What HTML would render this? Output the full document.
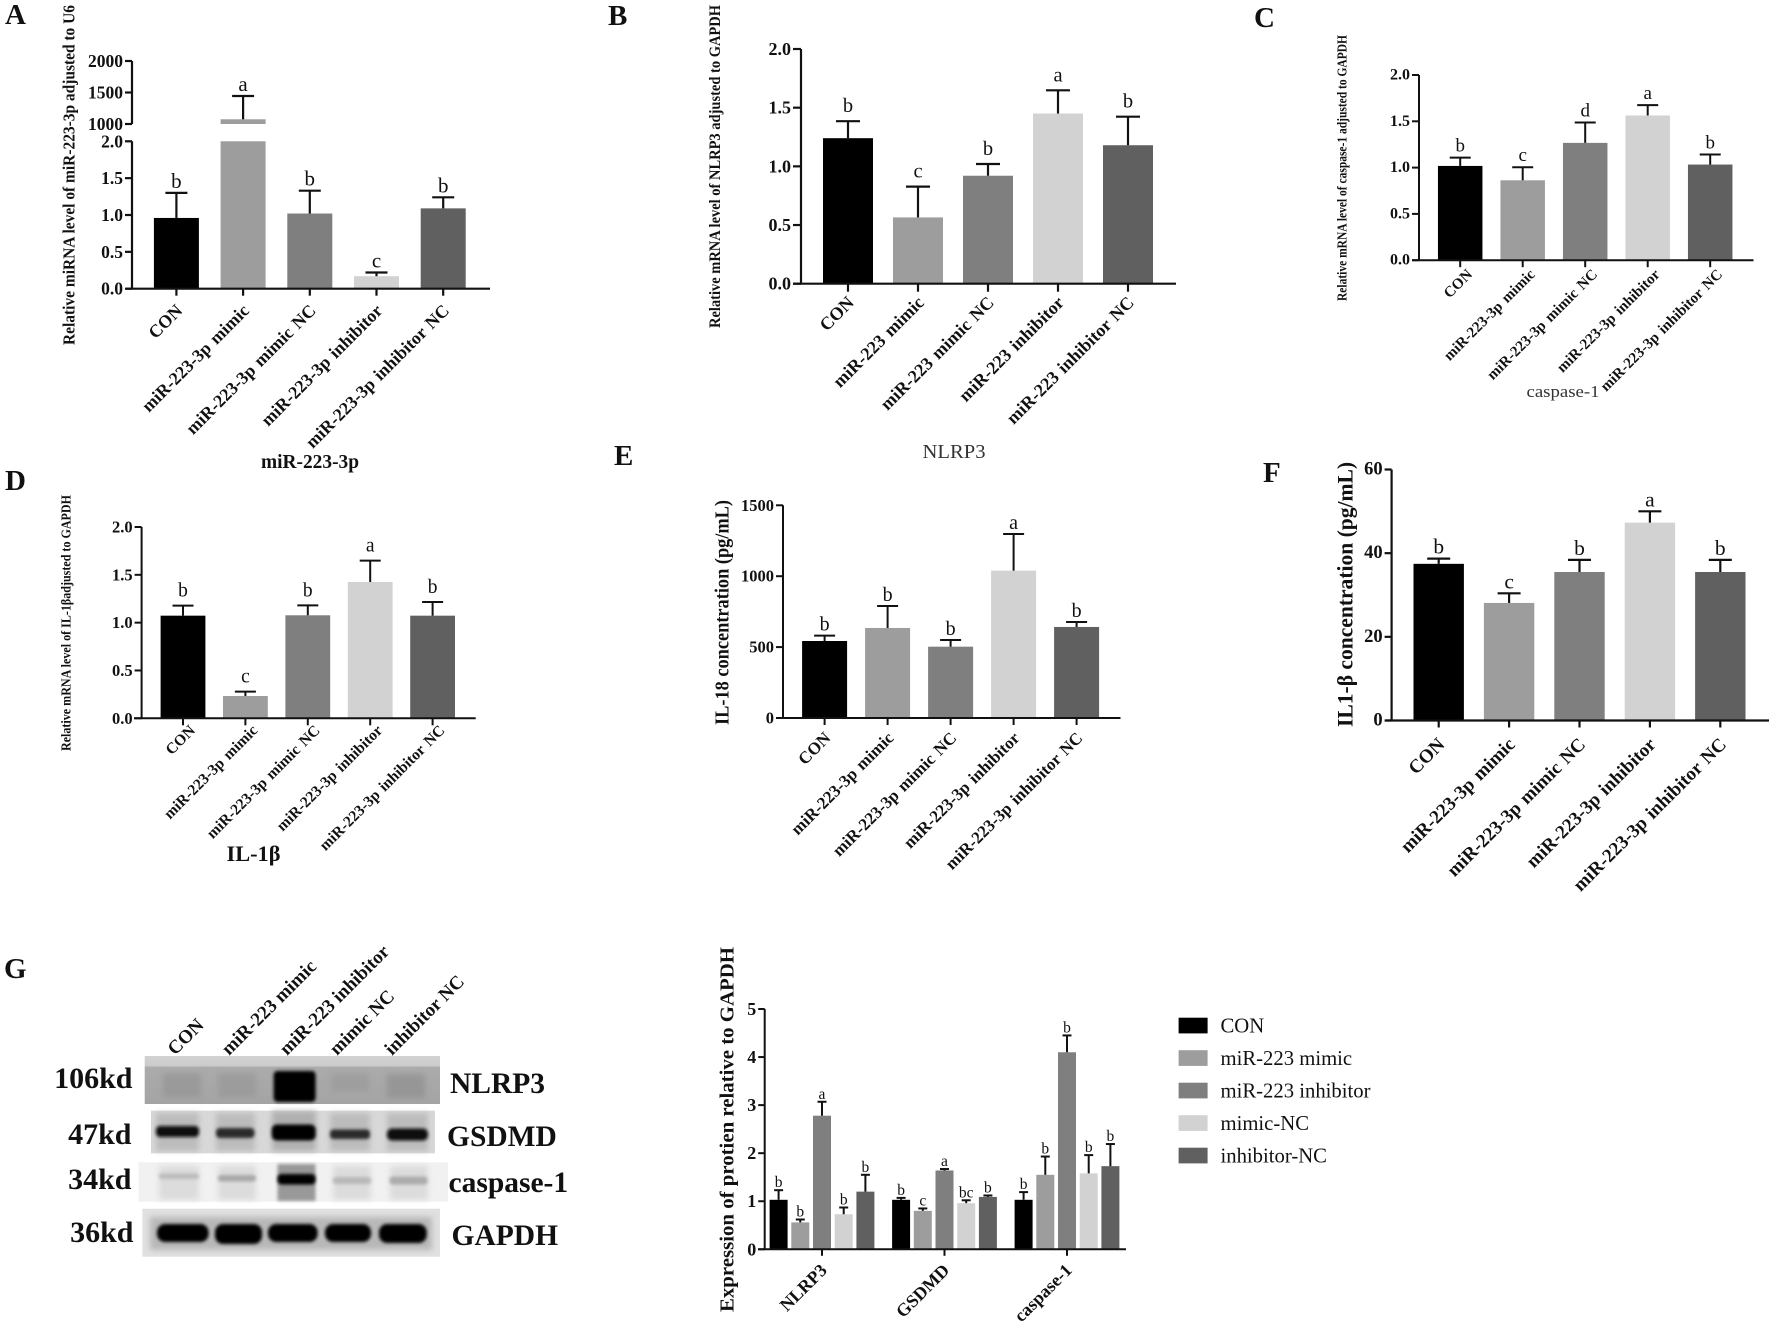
<!DOCTYPE html>
<html lang="en">
<head>
<meta charset="utf-8">
<title>miR-223-3p figure</title>
<style>
html,body{margin:0;padding:0;background:#fff;width:1772px;height:1326px;overflow:hidden}
svg{display:block;font-family:"Liberation Serif","Noto Serif CJK SC",serif}
text{fill:#111}
</style>
</head>
<body>
<svg id="fig" xmlns="http://www.w3.org/2000/svg" width="1772" height="1326" viewBox="0 0 1772 1326">
<defs>
<filter id="b1" x="-20%" y="-60%" width="140%" height="220%"><feGaussianBlur stdDeviation="1.6"/></filter>
<filter id="b3" x="-30%" y="-30%" width="160%" height="160%"><feGaussianBlur stdDeviation="3"/></filter>
<linearGradient id="nlrpBg" x1="0" y1="0" x2="0" y2="1"><stop offset="0" stop-color="#d2d2d2"/><stop offset=".2" stop-color="#cccccc"/><stop offset=".24" stop-color="#ababab"/><stop offset="1" stop-color="#a4a4a4"/></linearGradient>
</defs>
<rect width="1772" height="1326" fill="#fff"/>

<g font-weight="bold" font-size="29">
<text x="5" y="24">A</text>
<text x="608" y="25">B</text>
<text x="1254" y="27">C</text>
<text x="5" y="490">D</text>
<text x="614" y="465">E</text>
<text x="1263" y="482">F</text>
<text x="4" y="978">G</text>
</g>

<g text-anchor="middle">
<text x="310" y="468" font-size="19.5" font-weight="bold" textLength="98" lengthAdjust="spacingAndGlyphs">miR-223-3p</text>
<text x="954" y="458" font-size="20" style="fill:#333" textLength="63" lengthAdjust="spacingAndGlyphs">NLRP3</text>
<text x="1563" y="397" font-size="17" style="fill:#333" textLength="73" lengthAdjust="spacingAndGlyphs">caspase-1</text>
<text x="253.5" y="861" font-size="22" font-weight="bold" textLength="54" lengthAdjust="spacingAndGlyphs">IL-1β</text>
</g>

<g>
<g font-size="19" font-weight="bold">
<text transform="translate(175 1056) rotate(-45)">CON</text>
<text transform="translate(229 1056) rotate(-45)">miR-223 mimic</text>
<text transform="translate(287 1056) rotate(-45)">miR-223 inhibitor</text>
<text transform="translate(337 1056) rotate(-45)">mimic NC</text>
<text transform="translate(392 1056) rotate(-45)">inhibitor NC</text>
</g>
<g>
<rect x="144.7" y="1056" width="295.3" height="48" fill="url(#nlrpBg)"/>
<g filter="url(#b3)" fill="#8e8e8e">
<rect x="163" y="1073" width="38" height="24" opacity=".55"/><rect x="218" y="1073" width="38" height="24" opacity=".45"/><rect x="331" y="1073" width="38" height="18" opacity=".4"/><rect x="387" y="1074" width="38" height="24" opacity=".7"/>
</g>
<rect x="273.6" y="1071" width="42" height="31" rx="4" fill="#000" filter="url(#b1)"/>
</g>
<g>
<rect x="151" y="1110.7" width="284" height="42.6" fill="#d8d8d8"/>
<g filter="url(#b3)" fill="#b0b0b0"><rect x="156" y="1113" width="43" height="38" opacity=".7"/><rect x="216" y="1113" width="39" height="38" opacity=".7"/><rect x="272" y="1111" width="44" height="40"/><rect x="330" y="1113" width="40" height="38" opacity=".7"/><rect x="387" y="1113" width="41" height="38" opacity=".7"/></g>
<g filter="url(#b1)"><rect x="156" y="1126" width="43" height="11" rx="4" fill="#111"/><rect x="216" y="1128" width="38.5" height="10" rx="4" fill="#2a2a2a"/><rect x="271.7" y="1124.5" width="44" height="16" rx="5" fill="#000"/><rect x="330" y="1129.5" width="40" height="9.5" rx="3.5" fill="#2a2a2a"/><rect x="387" y="1128.5" width="41" height="12" rx="5" fill="#111"/></g>
</g>
<g>
<rect x="138.5" y="1162.3" width="309.5" height="39.4" fill="#f1f1f1"/>
<g filter="url(#b3)" fill="#dcdcdc"><rect x="159" y="1166" width="40" height="34"/><rect x="218" y="1166" width="38" height="34"/><rect x="333" y="1166" width="38" height="34"/><rect x="390" y="1166" width="38" height="34"/></g>
<rect x="277.5" y="1164" width="38" height="37" fill="#8a8a8a" filter="url(#b1)" opacity=".85"/>
<g filter="url(#b1)"><rect x="159" y="1173.5" width="40" height="5.5" rx="2.5" fill="#bcbcbc"/><rect x="218" y="1175" width="38" height="6.5" rx="3" fill="#a8a8a8"/><rect x="277.5" y="1174" width="38" height="10.5" rx="4" fill="#000"/><rect x="333" y="1177" width="38" height="7" rx="3" fill="#b8b8b8"/><rect x="389.6" y="1176.5" width="38" height="8" rx="3" fill="#acacac"/></g>
</g>
<g>
<rect x="142.4" y="1208.7" width="297.6" height="48" fill="#e0e0e0"/>
<rect x="150" y="1217" width="282" height="33" fill="#b8b8b8" filter="url(#b3)"/>
<g filter="url(#b1)" fill="#000"><rect x="157" y="1224" width="51.6" height="18" rx="8"/><rect x="215" y="1224" width="47" height="20" rx="8"/><rect x="268" y="1224" width="49.6" height="18" rx="8"/><rect x="325" y="1224" width="46" height="18" rx="8"/><rect x="379" y="1224" width="47.7" height="19" rx="8"/></g>
</g>
<g font-size="30" font-weight="bold" text-anchor="end">
<text x="132.5" y="1088">106kd</text>
<text x="131.5" y="1144">47kd</text>
<text x="131.5" y="1189">34kd</text>
<text x="133.5" y="1242">36kd</text>
</g>
<g font-size="29.5" font-weight="bold">
<text x="450" y="1093">NLRP3</text>
<text x="447" y="1146">GSDMD</text>
<text x="448.5" y="1192">caspase-1</text>
<text x="451.5" y="1245">GAPDH</text>
</g>
</g>

<g id="charts"></g>
</svg>

<script>
// ---- Chart data ----
const colors3pCategories = ["CON", "miR-223-3p mimic", "miR-223-3p mimic NC", "miR-223-3p inhibitor", "miR-223-3p inhibitor NC"];
const mir223Categories = ["CON", "miR-223 mimic", "miR-223 mimic NC", "miR-223 inhibitor", "miR-223 inhibitor NC"];

const panelAValues = [0.96, 1075, 1.02, 0.17, 1.09];
const panelAErrors = [0.34, 370, 0.31, 0.05, 0.15];
const panelALetters = ["b", "a", "b", "c", "b"];
const panelATicksLow = [0, 0.5, 1, 1.5, 2];
const panelATickLabelsLow = ["0.0", "0.5", "1.0", "1.5", "2.0"];
const panelATicksHigh = [1000, 1500, 2000];
const panelATickLabelsHigh = ["1000", "1500", "2000"];

const panelBValues = [1.24, 0.565, 0.92, 1.45, 1.18];
const panelBErrors = [0.145, 0.262, 0.10, 0.198, 0.243];
const panelBLetters = ["b", "c", "b", "a", "b"];

const panelCValues = [1.018, 0.863, 1.267, 1.563, 1.033];
const panelCErrors = [0.09, 0.141, 0.22, 0.112, 0.108];
const panelCLetters = ["b", "c", "d", "a", "b"];

const panelDValues = [1.073, 0.233, 1.077, 1.425, 1.073];
const panelDErrors = [0.105, 0.046, 0.104, 0.223, 0.143];
const panelDLetters = ["b", "c", "b", "a", "b"];

const panelEValues = [543, 635, 503, 1039, 642];
const panelEErrors = [38, 155, 47, 259, 35];
const panelELetters = ["b", "b", "b", "a", "b"];
const panelETicks = [0, 500, 1000, 1500];
const panelETickLabels = ["0", "500", "1000", "1500"];

const panelFValues = [37.45, 28.1, 35.5, 47.3, 35.5];
const panelFErrors = [1.25, 2.3, 2.9, 2.7, 2.9];
const panelFLetters = ["b", "c", "b", "a", "b"];
const panelFTicks = [0, 20, 40, 60];
const panelFTickLabels = ["0", "20", "40", "60"];

const unitTicks = [0, 0.5, 1, 1.5, 2];
const unitTickLabels = ["0.0", "0.5", "1.0", "1.5", "2.0"];

const proteinCategories = ["NLRP3", "GSDMD", "caspase-1"];
const proteinSeriesNames = ["CON", "miR-223 mimic", "miR-223 inhibitor", "mimic-NC", "inhibitor-NC"];
const proteinConValues = [1.03, 1.03, 1.03];
const proteinConErrors = [0.20, 0.04, 0.16];
const proteinConLetters = ["b", "b", "b"];
const proteinMimicValues = [0.56, 0.80, 1.55];
const proteinMimicErrors = [0.06, 0.05, 0.38];
const proteinMimicLetters = ["b", "c", "b"];
const proteinInhibitorValues = [2.78, 1.64, 4.10];
const proteinInhibitorErrors = [0.29, 0.03, 0.35];
const proteinInhibitorLetters = ["a", "a", "b"];
const proteinMimicNcValues = [0.73, 0.96, 1.58];
const proteinMimicNcErrors = [0.14, 0.06, 0.38];
const proteinMimicNcLetters = ["b", "bc", "b"];
const proteinInhibitorNcValues = [1.20, 1.09, 1.73];
const proteinInhibitorNcErrors = [0.35, 0.03, 0.46];
const proteinInhibitorNcLetters = ["b", "b", "b"];
const proteinTicks = [0, 1, 2, 3, 4, 5];
const proteinTickLabels = ["0", "1", "2", "3", "4", "5"];

// ---- Drawing ----
const shades = ["#000000", "#9d9d9e", "#7f7f7f", "#d2d2d2", "#606060"];
const NS = "http://www.w3.org/2000/svg";
const root = document.getElementById("charts");

function make(tag, attrs, parent, text) {
  const el = document.createElementNS(NS, tag);
  for (const k in attrs) el.setAttribute(k, attrs[k]);
  if (text !== undefined) el.textContent = text;
  parent.appendChild(el);
  return el;
}
function line(parent, x1, y1, x2, y2, w) {
  return make("line", {x1: x1, y1: y1, x2: x2, y2: y2, stroke: "#111", "stroke-width": w}, parent);
}
function axisScale(segments) {
  return function (v) {
    for (const s of segments) {
      if (v <= s.d1) return s.p0 + (Math.max(v, s.d0) - s.d0) / (s.d1 - s.d0) * (s.p1 - s.p0);
    }
    const l = segments[segments.length - 1];
    return l.p0 + (v - l.d0) / (l.d1 - l.d0) * (l.p1 - l.p0);
  };
}
function drawYTitle(parent, p) {
  const cy = (p.titleTop + p.titleBottom) / 2;
  const t = make("text", {
    transform: "translate(" + p.titleX + " " + cy + ") rotate(-90)",
    "text-anchor": "middle", "dominant-baseline": "central", "font-weight": "bold",
    "font-size": p.titleSize, textLength: p.titleBottom - p.titleTop, lengthAdjust: "spacingAndGlyphs"
  }, parent, p.title);
  
  
}
function drawYTicks(parent, p, y, ticks, labels) {
  ticks.forEach(function (v, i) {
    const tk = line(parent, p.axisX - p.tickLen, y(v), p.axisX, y(v), p.axisW);
    
    
    const lb = make("text", {
      x: p.axisX - p.tickLen - 2, y: y(v), "text-anchor": "end", "dominant-baseline": "central",
      "font-weight": "bold", "font-size": p.tickSize
    }, parent, labels[i]);
    
    
  });
}
function drawBar(parent, p, y, cx, val, err, letter, fill, w, capW, segments) {
  segments.forEach(function (s) {
    if (val <= s.d0) return;
    const top = y(Math.min(val, s.d1));
    const bottom = y(s.d0);
    const r = make("rect", {x: cx - w / 2, y: top, width: w, height: bottom - top, fill: fill}, parent);
    
    
  });
  const capY = y(val + err);
  const stem = line(parent, cx, y(val), cx, capY, p.errW);
  
  
  const cap = line(parent, cx - capW / 2, capY, cx + capW / 2, capY, p.errW);
  
  
  const t = make("text", {
    x: cx + (p.letterDx || 0), y: capY - p.letterGap, "text-anchor": "middle", "font-size": p.letterSize
  }, parent, letter);
  
  
}
function drawXLabel(parent, p, cx, label) {
  const t = make("text", {
    transform: "translate(" + (cx + p.labelDx) + " " + (p.segments[0].p0 + p.labelDy) + ") rotate(" + (p.labelRot || -45) + ")",
    "text-anchor": "end", "font-weight": "bold", "font-size": p.labelSize, "word-spacing": "1.5"
  }, parent, label);
  
  
}
function drawPanel(p) {
  const g = make("g", {}, root);
  
  
  const y = axisScale(p.segments);
  drawYTitle(g, p);
  p.segments.forEach(function (s) {
    const a = line(g, p.axisX, s.p0, p.axisX, s.p1, p.axisW);
    
    
  });
  p.tickSets.forEach(function (ts) { drawYTicks(g, p, y, ts[0], ts[1]); });
  p.values.forEach(function (v, i) {
    const cx = p.x0 + p.step * i;
    drawBar(g, p, y, cx, v, p.errors[i], p.letters[i], shades[i], p.barW, p.capW, p.segments);
    const tk = line(g, cx, p.segments[0].p0, cx, p.segments[0].p0 + p.tickLen, p.axisW);
    
    
    drawXLabel(g, p, cx, p.categories[i]);
  });
  const base = line(g, p.xStart, p.segments[0].p0, p.xEnd, p.segments[0].p0, p.axisW);
  
  
}

drawPanel({
  name: "panel-a-mirna-chart", categories: colors3pCategories, values: panelAValues, errors: panelAErrors, letters: panelALetters,
  tickSets: [[panelATicksLow, panelATickLabelsLow], [panelATicksHigh, panelATickLabelsHigh]],
  segments: [{d0: 0, d1: 2, p0: 288.7, p1: 141.3}, {d0: 1000, d1: 2000, p0: 124, p1: 61}],
  axisX: 132, xStart: 126, xEnd: 490, x0: 176.4, step: 66.7, barW: 45, capW: 22,
  axisW: 2.2, errW: 2.2, tickLen: 7, tickSize: 17.5, letterSize: 21, letterGap: 5, labelSize: 17.8, labelDx: 7, labelDy: 23,
  title: "Relative miRNA level of miR-223-3p adjusted to U6", titleX: 69, titleTop: 5, titleBottom: 345, titleSize: 16.5
});
drawPanel({
  name: "panel-b-nlrp3-chart", categories: mir223Categories, values: panelBValues, errors: panelBErrors, letters: panelBLetters,
  tickSets: [[unitTicks, unitTickLabels]],
  segments: [{d0: 0, d1: 2, p0: 283.7, p1: 49}],
  axisX: 801, xStart: 793, xEnd: 1176, x0: 848, step: 70, barW: 50, capW: 24,
  axisW: 2.2, errW: 2.2, tickLen: 8, tickSize: 18, letterSize: 20.5, letterGap: 9, labelSize: 18, labelDx: 7, labelDy: 20,
  title: "Relative mRNA level of NLRP3 adjusted to GAPDH", titleX: 715.6, titleTop: 5, titleBottom: 328, titleSize: 15.5
});
drawPanel({
  name: "panel-c-caspase-1-chart", categories: colors3pCategories, values: panelCValues, errors: panelCErrors, letters: panelCLetters,
  tickSets: [[unitTicks, unitTickLabels]],
  segments: [{d0: 0, d1: 2, p0: 260.2, p1: 75}],
  axisX: 1419, xStart: 1412, xEnd: 1753.5, x0: 1460.2, step: 62.5, barW: 44.5, capW: 21,
  axisW: 2, errW: 2, tickLen: 7, tickSize: 16, letterSize: 19, letterGap: 6, labelSize: 15.1, labelDx: 13, labelDy: 15,
  title: "Relative mRNA level of caspase-1 adjusted to GAPDH", titleX: 1342, titleTop: 35, titleBottom: 301, titleSize: 13.5
});
drawPanel({
  name: "panel-d-il-1-beta-mrna-chart", categories: colors3pCategories, values: panelDValues, errors: panelDErrors, letters: panelDLetters,
  tickSets: [[unitTicks, unitTickLabels]],
  segments: [{d0: 0, d1: 2, p0: 718.3, p1: 527}],
  axisX: 141.6, xStart: 134, xEnd: 475.7, x0: 183, step: 62.4, barW: 44.8, capW: 21,
  axisW: 2, errW: 2, tickLen: 7, tickSize: 16.5, letterSize: 19.5, letterGap: 9, labelSize: 15.5, labelDx: 13, labelDy: 13,
  title: "Relative mRNA level of IL-1βadjusted to GAPDH", titleX: 66, titleTop: 495, titleBottom: 751, titleSize: 13.5
});
drawPanel({
  name: "panel-e-il-18-chart", categories: colors3pCategories, values: panelEValues, errors: panelEErrors, letters: panelELetters,
  tickSets: [[panelETicks, panelETickLabels]],
  segments: [{d0: 0, d1: 1500, p0: 718, p1: 505.3}],
  axisX: 783, xStart: 776, xEnd: 1120.5, x0: 824.6, step: 63, barW: 45, capW: 21,
  axisW: 2, errW: 2, tickLen: 7, tickSize: 16.5, letterSize: 20, letterGap: 5, labelSize: 17, labelDx: 7, labelDy: 21,
  title: "IL-18 concentration (pg/mL)", titleX: 722.5, titleTop: 500, titleBottom: 725, titleSize: 20
});
drawPanel({
  name: "panel-f-il1-beta-chart", categories: colors3pCategories, values: panelFValues, errors: panelFErrors, letters: panelFLetters,
  tickSets: [[panelFTicks, panelFTickLabels]],
  segments: [{d0: 0, d1: 60, p0: 720.5, p1: 469.5}],
  axisX: 1391.6, xStart: 1385.4, xEnd: 1769, x0: 1438.7, step: 70.4, barW: 50.4, capW: 23,
  axisW: 2.2, errW: 2.2, tickLen: 7, tickSize: 18.5, letterSize: 21.5, letterGap: 5, labelSize: 19, labelDx: 7, labelDy: 25,
  title: "IL1-β concentration (pg/mL)", titleX: 1345, titleTop: 462, titleBottom: 727, titleSize: 22
});

// Grouped protein chart
const proteinSeries = [
  [proteinConValues, proteinConErrors, proteinConLetters],
  [proteinMimicValues, proteinMimicErrors, proteinMimicLetters],
  [proteinInhibitorValues, proteinInhibitorErrors, proteinInhibitorLetters],
  [proteinMimicNcValues, proteinMimicNcErrors, proteinMimicNcLetters],
  [proteinInhibitorNcValues, proteinInhibitorNcErrors, proteinInhibitorNcLetters]
];
(function () {
  const p = {
    segments: [{d0: 0, d1: 5, p0: 1249.3, p1: 1009}],
    axisX: 764.7, axisW: 2, errW: 2, tickLen: 6.5, tickSize: 18, letterSize: 15.5, letterGap: 3,
    labelSize: 18, labelDx: 6, labelDy: 22, labelRot: -45,
    title: "Expression of protien relative to GAPDH", titleX: 727.7, titleTop: 947, titleBottom: 1312, titleSize: 20
  };
  const g = make("g", {}, root);
  
  
  const y = axisScale(p.segments);
  drawYTitle(g, p);
  const ax = line(g, p.axisX, p.segments[0].p0, p.axisX, p.segments[0].p1, p.axisW);
  
  
  drawYTicks(g, p, y, proteinTicks, proteinTickLabels);
  const groupStart = 778.6, barStep = 21.7, groupStep = 122.5, barW = 18, capW = 9;
  proteinCategories.forEach(function (cat, c) {
    proteinSeries.forEach(function (s, i) {
      const cx = groupStart + groupStep * c + barStep * i;
      drawBar(g, p, y, cx, s[0][c], s[1][c], s[2][c], shades[i], barW, capW, p.segments);
    });
    const mid = groupStart + groupStep * c + barStep * 2;
    const tk = line(g, mid, p.segments[0].p0, mid, p.segments[0].p0 + p.tickLen, p.axisW);
    
    
    drawXLabel(g, p, mid, cat);
  });
  const base = line(g, 758, p.segments[0].p0, 1126, p.segments[0].p0, p.axisW);
  
  

  const lg = make("g", {}, root);
  
  
  proteinSeriesNames.forEach(function (n, i) {
    const sw = make("rect", {x: 1178.6, y: 1017.7 + 32.5 * i, width: 29, height: 15.7, fill: shades[i]}, lg);
    
    
    const t = make("text", {x: 1220.5, y: 1032.5 + 32.5 * i, "font-size": 20.7}, lg, n);
    
    
  });
})();
</script>
</body>
</html>
